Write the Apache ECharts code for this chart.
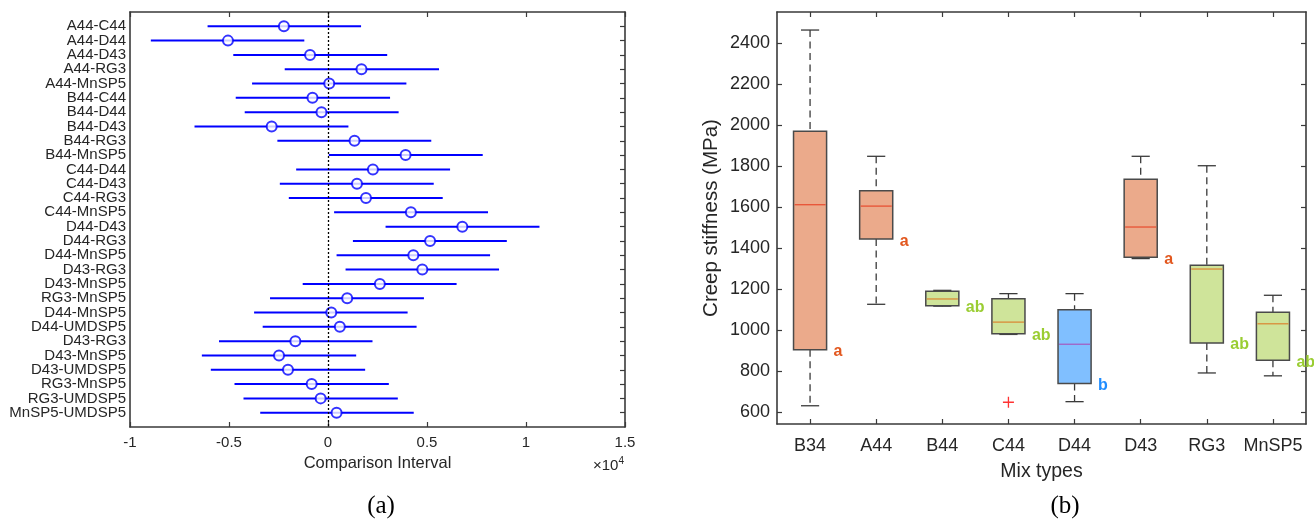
<!DOCTYPE html>
<html>
<head>
<meta charset="utf-8">
<script src="https://cdn.jsdelivr.net/npm/echarts@6/dist/echarts.min.js"></script>
<style>
html,body{margin:0;padding:0;background:#fff;}
#c{width:1314px;height:522px;}
</style>
</head>
<body>
<div id="c"></div>
<script>
// ---------- Panel (a): multiple comparison intervals ----------
const pairLabels = ['A44-C44','A44-D44','A44-D43','A44-RG3','A44-MnSP5','B44-C44','B44-D44','B44-D43','B44-RG3','B44-MnSP5','C44-D44','C44-D43','C44-RG3','C44-MnSP5','D44-D43','D44-RG3','D44-MnSP5','D43-RG3','D43-MnSP5','RG3-MnSP5','D44-MnSP5','D44-UMDSP5','D43-RG3','D43-MnSP5','D43-UMDSP5','RG3-MnSP5','RG3-UMDSP5','MnSP5-UMDSP5'];
const pairLow = [-6082,-8948,-4784,-2186,-3835,-4660,-4206,-6742,-2557,41,-1608,-2433,-1979,309,2907,1258,433,887,-1278,-2928,-3732,-3299,-5505,-6371,-5918,-4722,-4268,-3423];
const pairMean = [-2227,-5052,-907,1691,62,-784,-330,-2845,1340,3918,2268,1464,1918,4186,6784,5155,4309,4763,2619,969,165,598,-1649,-2474,-2021,-825,-371,433];
const pairHigh = [1670,-1196,2990,5608,3959,3134,3567,1031,5216,7814,6165,5340,5794,8082,10680,9031,8186,8639,6495,4845,4021,4474,2247,1423,1876,3072,3526,4330];
const xTicksA = [-10000,-5000,0,5000,10000,15000];

// ---------- Panel (b): creep stiffness boxplots ----------
const mixTypes = ['B34','A44','B44','C44','D44','D43','RG3','MnSP5'];
const whiskerLow = [632,1127,1118,980,652,1350,792,778];
const q1 = [905,1445,1120,983,741,1356,938,854];
const medianVal = [1613,1606,1153,1040,932,1504,1299,1032];
const q3 = [1971,1681,1191,1154,1100,1737,1318,1088];
const whiskerHigh = [2465,1849,1195,1179,1179,1849,1803,1171];
const groupLetters = ['a','a','ab','ab','b','a','ab','ab'];
const outlierMix = ['C44'];
const outlierVal = [649];
const yTicksB = [600,800,1000,1200,1400,1600,1800,2000,2200,2400];

// ---------- styles ----------
const FONT = 'Liberation Sans, Arial, Helvetica, sans-serif';
const SERIF = 'Liberation Serif, Times New Roman, serif';
const AX = '#3a3a3a';
const TXT = '#262626';
const groupStyle = {
  'a':  {fill:'#EBAA8B', med:'#E8573A', letter:'#E2571E'},
  'ab': {fill:'#CFE49A', med:'#D9923F', letter:'#9ACD32'},
  'b':  {fill:'#80BFFF', med:'#A065C8', letter:'#1E8CFF'}
};

const chart = echarts.init(document.getElementById('c'), null, {renderer:'canvas'});

const errData = pairLabels.map((_, i) => [i + 1, pairLow[i], pairHigh[i]]);
const meanData = pairLabels.map((_, i) => [pairMean[i], i + 1]);
const boxData = mixTypes.map((_, i) => [i, whiskerLow[i], q1[i], medianVal[i], q3[i], whiskerHigh[i]]);
const outData = outlierMix.map((m, i) => [m, outlierVal[i]]);
const rowTicks = pairLabels.map((_, i) => i + 1);

const lineAx = {show: true, onZero: false, lineStyle: {color: AX, width: 1.6}};
const tickIn = {show: true, inside: true, length: 5, lineStyle: {color: AX, width: 1.2}};

const option = {
  animation: false,
  backgroundColor: '#ffffff',
  grid: [
    {left: 130, top: 12, width: 495, height: 415, show: false},
    {left: 777, top: 12, width: 529, height: 412, show: false}
  ],
  xAxis: [
    { // 0: panel a bottom
      type: 'value', gridIndex: 0, min: -10000, max: 15000, interval: 5000,
      position: 'bottom', axisLine: lineAx, axisTick: tickIn,
      splitLine: {show: false},
      axisLabel: {color: TXT, fontFamily: FONT, fontSize: 15, margin: 8,
        formatter: v => String(Math.round(v / 1000) / 10)},
      name: 'Comparison Interval', nameLocation: 'middle', nameGap: 27,
      nameTextStyle: {color: TXT, fontFamily: FONT, fontSize: 16.5}
    },
    { // 1: panel a top
      type: 'value', gridIndex: 0, min: -10000, max: 15000, interval: 5000,
      position: 'top', axisLine: lineAx, axisTick: tickIn,
      splitLine: {show: false}, axisLabel: {show: false}
    },
    { // 2: panel b bottom
      type: 'category', gridIndex: 1, data: mixTypes, position: 'bottom', boundaryGap: true,
      axisLine: lineAx,
      axisTick: Object.assign({alignWithLabel: true, interval: 0}, tickIn),
      axisLabel: {color: TXT, fontFamily: FONT, fontSize: 18, margin: 13, interval: 0},
      name: 'Mix types', nameLocation: 'middle', nameGap: 38,
      nameTextStyle: {color: TXT, fontFamily: FONT, fontSize: 19.5}
    },
    { // 3: panel b top
      type: 'category', gridIndex: 1, data: mixTypes, position: 'top', boundaryGap: true,
      axisLine: lineAx,
      axisTick: Object.assign({alignWithLabel: true, interval: 0}, tickIn),
      axisLabel: {show: false}
    }
  ],
  yAxis: [
    { // 0: panel a left (labels)
      type: 'value', gridIndex: 0, min: 0, max: 29, interval: 1, inverse: true,
      position: 'left', axisLine: lineAx,
      axisTick: {show: false},
      splitLine: {show: false},
      axisLabel: {color: TXT, fontFamily: FONT, fontSize: 15, margin: 4,
        formatter: v => (v >= 1 && v <= pairLabels.length) ? pairLabels[v - 1] : ''}
    },
    { // 1: panel a right (ticks)
      type: 'value', gridIndex: 0, min: 0, max: 29, interval: 1, inverse: true,
      position: 'right', axisLine: lineAx,
      axisTick: Object.assign({customValues: rowTicks}, tickIn),
      splitLine: {show: false}, axisLabel: {show: false}
    },
    { // 2: panel b left
      type: 'value', gridIndex: 1, min: 543, max: 2553, position: 'left',
      axisLine: lineAx,
      axisTick: Object.assign({customValues: yTicksB}, tickIn),
      splitLine: {show: false},
      axisLabel: {color: TXT, fontFamily: FONT, fontSize: 18, margin: 7, customValues: yTicksB,
        formatter: v => String(v)},
      name: 'Creep stiffness (MPa)', nameLocation: 'middle', nameGap: 55,
      nameTextStyle: {color: TXT, fontFamily: FONT, fontSize: 20.5}
    },
    { // 3: panel b right
      type: 'value', gridIndex: 1, min: 543, max: 2553, position: 'right',
      axisLine: lineAx,
      axisTick: Object.assign({customValues: yTicksB}, tickIn),
      splitLine: {show: false}, axisLabel: {show: false}
    }
  ],
  series: [
    {
      type: 'custom', name: 'interval', xAxisIndex: 0, yAxisIndex: 0,
      data: errData, encode: {x: [1, 2], y: 0}, silent: true,
      renderItem: function (params, api) {
        const y = api.value(0);
        const a = api.coord([api.value(1), y]);
        const b = api.coord([api.value(2), y]);
        return {type: 'line', shape: {x1: a[0], y1: a[1], x2: b[0], y2: b[1]},
          style: {stroke: '#0000FF', lineWidth: 2}};
      },
      markLine: {
        silent: true, symbol: ['none', 'none'], label: {show: false},
        lineStyle: {color: '#000000', type: [2, 2], width: 1.3},
        data: [{xAxis: 0}]
      },
      z: 2
    },
    {
      type: 'scatter', name: 'mean', xAxisIndex: 0, yAxisIndex: 0,
      data: meanData, symbol: 'emptyCircle', symbolSize: 10, silent: true,
      itemStyle: {color: '#0000FF', borderColor: '#0000FF', borderWidth: 1.8},
      z: 3
    },
    {
      type: 'custom', name: 'box', xAxisIndex: 2, yAxisIndex: 2,
      data: boxData, encode: {x: 0, y: [1, 2, 3, 4, 5]}, silent: true,
      renderItem: function (params, api) {
        const i = params.dataIndex;
        const st = groupStyle[groupLetters[i]];
        const x = api.value(0);
        const pLow = api.coord([x, api.value(1)]);
        const pQ1 = api.coord([x, api.value(2)]);
        const pMed = api.coord([x, api.value(3)]);
        const pQ3 = api.coord([x, api.value(4)]);
        const pHigh = api.coord([x, api.value(5)]);
        const bw = api.size([1, 0])[0] * 0.5;
        const cw = bw * 0.55;
        const cx = pQ1[0];
        const dash = {stroke: '#3a3a3a', lineWidth: 1.3, lineDash: [7, 4.5]};
        const solid = {stroke: '#3a3a3a', lineWidth: 1.3};
        return {
          type: 'group',
          children: [
            {type: 'line', shape: {x1: cx, y1: pHigh[1], x2: cx, y2: pQ3[1]}, style: dash},
            {type: 'line', shape: {x1: cx, y1: pQ1[1], x2: cx, y2: pLow[1]}, style: dash},
            {type: 'line', shape: {x1: cx - cw / 2, y1: pHigh[1], x2: cx + cw / 2, y2: pHigh[1]}, style: solid},
            {type: 'line', shape: {x1: cx - cw / 2, y1: pLow[1], x2: cx + cw / 2, y2: pLow[1]}, style: solid},
            {type: 'rect', shape: {x: cx - bw / 2, y: pQ3[1], width: bw, height: pQ1[1] - pQ3[1]},
              style: {fill: st.fill, stroke: '#4a4a4a', lineWidth: 1.5}},
            {type: 'line', shape: {x1: cx - bw / 2 + 1, y1: pMed[1], x2: cx + bw / 2 - 1, y2: pMed[1]},
              style: {stroke: st.med, lineWidth: 1.4}},
            {type: 'text', x: cx + bw / 2 + 7, y: pQ1[1] + 2,
              style: {text: groupLetters[i], fill: st.letter, font: 'bold 16px ' + FONT,
                textAlign: 'left', textVerticalAlign: 'middle'}}
          ]
        };
      }
    },
    {
      type: 'scatter', name: 'outlier', xAxisIndex: 2, yAxisIndex: 2,
      data: outData, silent: true,
      symbol: 'path://M4.4,0H5.6V4.4H10V5.6H5.6V10H4.4V5.6H0V4.4H4.4Z',
      symbolSize: 11, itemStyle: {color: '#FF0000'}
    }
  ],
  graphic: [
    {type: 'text', right: 1314 - 624, top: 456,
      style: {text: '×10{s|4}', fill: TXT, font: '15px ' + FONT,
        rich: {s: {fontSize: 10, fontFamily: FONT, fill: TXT, verticalAlign: 'top', padding: [0, 0, 10, 0]}}}},
    {type: 'text', x: 381, y: 506,
      style: {text: '(a)', fill: '#000', font: '25px ' + SERIF, textAlign: 'center', textVerticalAlign: 'middle'}},
    {type: 'text', x: 1065, y: 506,
      style: {text: '(b)', fill: '#000', font: '25px ' + SERIF, textAlign: 'center', textVerticalAlign: 'middle'}}
  ]
};
chart.setOption(option);
</script>
</body>
</html>
